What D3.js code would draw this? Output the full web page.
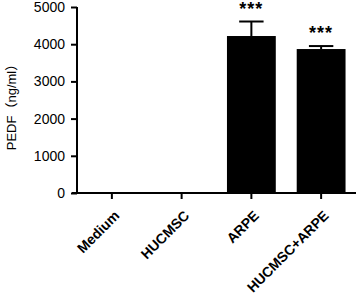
<!DOCTYPE html>
<html>
<head>
<meta charset="utf-8">
<script src="https://cdn.jsdelivr.net/npm/d3@7"></script>
<style>
  body { margin: 0; background: #fff; }
</style>
</head>
<body>
<div id="chart"></div>
<script>
// data
var groups = ["Medium", "HUCMSC", "ARPE", "HUCMSC+ARPE"];
var means = [0, 0, 4220, 3870];
var errors = [0, 0, 390, 80];
var stars = ["", "", "***", "***"];
var yTicks = [0, 1000, 2000, 3000, 4000, 5000];

var font = "'Liberation Sans', Arial, sans-serif";

var margin = {top: 7, right: 2, bottom: 105, left: 77},
    width = 358 - margin.left - margin.right,
    height = 298 - margin.top - margin.bottom;

var svg = d3.select("#chart")
  .append("svg")
    .attr("width", 358)
    .attr("height", 298)
  .append("g")
    .attr("transform", "translate(" + margin.left + "," + margin.top + ")");

var x = d3.scaleBand()
    .domain(groups)
    .range([0, width])
    .paddingInner(0.3)
    .paddingOuter(0.15);

var y = d3.scaleLinear()
    .domain([0, 5000])
    .range([height, 0]);

// bars
svg.selectAll(".bar")
  .data(groups)
  .enter().append("rect")
    .attr("class", "bar")
    .attr("x", function(d) { return x(d); })
    .attr("y", function(d, i) { return y(means[i]); })
    .attr("width", x.bandwidth())
    .attr("height", function(d, i) { return height - y(means[i]); })
    .attr("fill", "#000");

// error bars (upper only) + significance stars
var capW = x.bandwidth() / 2;
groups.forEach(function(g, i) {
    if (!errors[i]) return;
    var cx = x(g) + x.bandwidth() / 2;
    var top = y(means[i] + errors[i]);
    svg.append("line")
        .attr("x1", cx).attr("x2", cx)
        .attr("y1", y(means[i])).attr("y2", top)
        .attr("stroke", "#000").attr("stroke-width", 2);
    svg.append("line")
        .attr("x1", cx - capW / 2).attr("x2", cx + capW / 2)
        .attr("y1", top).attr("y2", top)
        .attr("stroke", "#000").attr("stroke-width", 2);
    svg.append("text")
        .attr("x", cx)
        .attr("y", top - 7)
        .attr("text-anchor", "middle")
        .attr("font-family", font)
        .attr("font-size", "18px")
        .attr("font-weight", "bold")
        .attr("letter-spacing", "1px")
        .text(stars[i]);
});

// y axis
var yAxis = svg.append("g")
    .call(d3.axisLeft(y).tickValues(yTicks).tickSize(6).tickPadding(6).tickFormat(d3.format("d")));
yAxis.select(".domain").attr("stroke-width", 2).attr("d", "M0," + (height + 1) + "V0");
yAxis.selectAll(".tick line").attr("stroke-width", 2);
yAxis.selectAll("text")
    .attr("font-size", "14px")
    .attr("fill", "#000")
    .attr("font-family", font);

// x axis
var xAxis = svg.append("g")
    .attr("transform", "translate(0," + height + ")")
    .call(d3.axisBottom(x).tickSize(6).tickPadding(4));
xAxis.select(".domain").attr("stroke-width", 2).attr("d", "M-5,0H" + width);
xAxis.selectAll(".tick line").attr("stroke-width", 2);
xAxis.selectAll("text")
    .attr("font-size", "14px")
    .attr("font-weight", "bold")
    .attr("fill", "#000")
    .attr("font-family", font)
    .attr("text-anchor", "end")
    .attr("dy", "0.35em")
    .attr("transform", "translate(-2,13) rotate(-45)");

// y label (full-width parentheses from the CJK font)
var yLabel = svg.append("text")
    .attr("transform", "translate(-61,97) rotate(-90)")
    .attr("text-anchor", "middle")
    .attr("font-size", "13px")
    .attr("font-family", "'Liberation Sans', 'Noto Sans CJK SC', sans-serif");
yLabel.append("tspan").text("PEDF");
yLabel.append("tspan").attr("font-family", "'Noto Sans CJK SC'").text("（");
yLabel.append("tspan").text("ng/ml");
yLabel.append("tspan").attr("font-family", "'Noto Sans CJK SC'").text("）");
</script>
</body>
</html>
